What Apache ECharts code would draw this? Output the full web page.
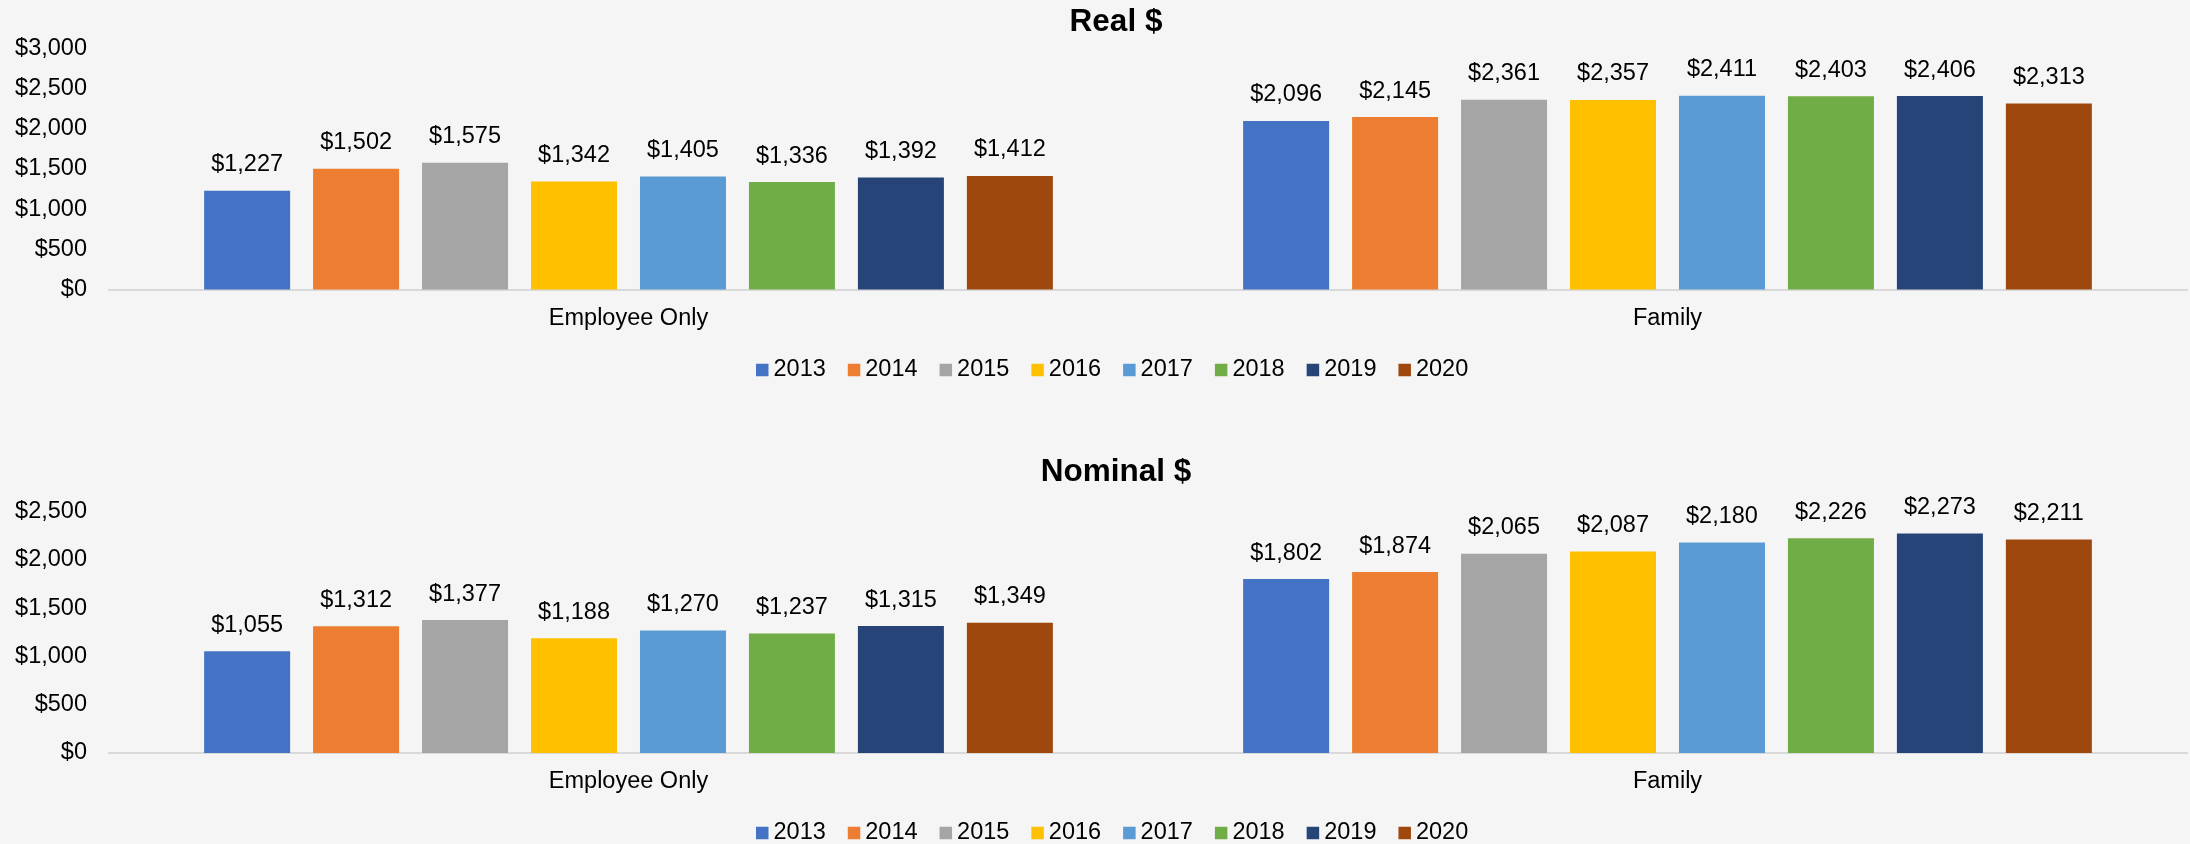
<!DOCTYPE html>
<html>
<head>
<meta charset="utf-8">
<title>Real $ / Nominal $</title>
<script src="https://cdn.jsdelivr.net/npm/echarts@6/dist/echarts.min.js"></script>
<style>
  html, body { margin: 0; padding: 0; background: #f5f5f5; }
  #main { width: 2190px; height: 844px; }
</style>
</head>
<body>
<div id="main"></div>
<script>
// data
var years = ['2013', '2014', '2015', '2016', '2017', '2018', '2019', '2020'];
var categories = ['Employee Only', 'Family'];

var realEmployee = [1227, 1502, 1575, 1342, 1405, 1336, 1392, 1412];
var realFamily = [2096, 2145, 2361, 2357, 2411, 2403, 2406, 2313];

var nominalEmployee = [1055, 1312, 1377, 1188, 1270, 1237, 1315, 1349];
var nominalFamily = [1802, 1874, 2065, 2087, 2180, 2226, 2273, 2211];

var realTicks = { max: 3000, interval: 500 };
var nominalTicks = { max: 2500, interval: 500 };

var colors = ['#4472c4', '#ed7d31', '#a5a5a5', '#ffc000', '#5b9bd5', '#70ad47', '#264478', '#9e480e'];

var font = 'Liberation Sans, Arial, sans-serif';
var fs = 23.5;

function money(v) {
  return '$' + Number(v).toLocaleString('en-US');
}

var myChart = echarts.init(document.getElementById('main'));

function makeSeries(gridIdx, emp, fam) {
  var list = [];
  for (var i = 0; i < years.length; i++) {
    list.push({
      name: years[i],
      type: 'bar',
      xAxisIndex: gridIdx,
      yAxisIndex: gridIdx,
      barWidth: 86,
      barGap: '26.7%',
      data: [emp[i], fam[i]],
      itemStyle: { color: colors[i] },
      label: {
        show: true,
        position: 'top',
        distance: 14,
        color: '#000',
        fontSize: fs,
        fontFamily: font,
        formatter: function (p) { return money(p.value); }
      }
    });
  }
  return list;
}

function xAxisOpt(gridIdx) {
  return {
    type: 'category',
    gridIndex: gridIdx,
    data: categories,
    axisTick: { show: false },
    axisLine: { lineStyle: { color: '#d9d9d9', width: 2 } },
    axisLabel: { margin: 17, color: '#000', fontSize: fs, fontFamily: font }
  };
}

function yAxisOpt(gridIdx, ticks) {
  return {
    type: 'value',
    gridIndex: gridIdx,
    min: 0,
    max: ticks.max,
    interval: ticks.interval,
    splitLine: { show: false },
    axisLine: { show: false },
    axisTick: { show: false },
    axisLabel: { margin: 22, color: '#000', fontSize: fs, fontFamily: font, formatter: money }
  };
}

function legendOpt(top) {
  return {
    data: years,
    left: 756,
    top: top,
    padding: 0,
    icon: 'rect',
    itemWidth: 12.5,
    itemHeight: 12.5,
    itemGap: 22,
    textStyle: { color: '#000', fontSize: fs, fontFamily: font }
  };
}

var titleStyle = { color: '#000', fontSize: 31.5, fontWeight: 'bold', fontFamily: font };

var option = {
  backgroundColor: '#f5f5f5',
  animation: false,
  title: [
    { text: 'Real $', left: 1116, top: 6, textAlign: 'center', padding: 0, textStyle: titleStyle },
    { text: 'Nominal $', left: 1116, top: 456, textAlign: 'center', padding: 0, textStyle: titleStyle }
  ],
  legend: [legendOpt(358), legendOpt(821)],
  grid: [
    { left: 109, right: 3, top: 48.3, height: 241.2 },
    { left: 109, right: 3, top: 511.7, height: 241.3 }
  ],
  xAxis: [xAxisOpt(0), xAxisOpt(1)],
  yAxis: [yAxisOpt(0, realTicks), yAxisOpt(1, nominalTicks)],
  series: makeSeries(0, realEmployee, realFamily).concat(makeSeries(1, nominalEmployee, nominalFamily))
};

myChart.setOption(option);
</script>
</body>
</html>
